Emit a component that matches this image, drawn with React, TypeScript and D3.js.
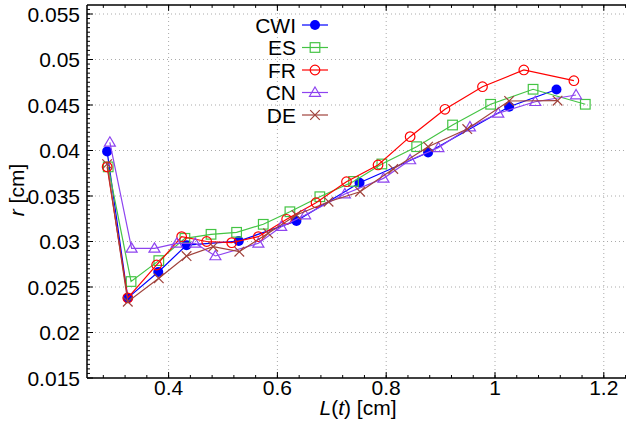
import { useEffect, useRef } from "react";
import * as d3 from "d3";

// series values
const cwiX = [0.287, 0.325, 0.381, 0.433, 0.529, 0.635, 0.751, 0.877, 1.026, 1.113];
const cwiY = [0.0399, 0.0238, 0.02665, 0.0296, 0.03005, 0.03225, 0.03646, 0.03978, 0.04481, 0.0467];

const esX = [0.289, 0.331, 0.382, 0.43, 0.478, 0.525, 0.574, 0.623, 0.678, 0.74, 0.792, 0.856, 0.922, 0.992, 1.07, 1.166];
const esY = [0.0382, 0.0256, 0.0279, 0.03035, 0.03079, 0.03101, 0.03189, 0.03327, 0.03492, 0.0366, 0.03852, 0.04042, 0.0428, 0.04508, 0.04673, 0.04508];

const frX = [0.287, 0.325, 0.378, 0.424, 0.47, 0.516, 0.565, 0.617, 0.671, 0.727, 0.785, 0.844, 0.908, 0.977, 1.053, 1.145];
const frY = [0.0382, 0.0238, 0.02742, 0.03053, 0.03, 0.02987, 0.03053, 0.03244, 0.03426, 0.03657, 0.03841, 0.04152, 0.04453, 0.04701, 0.04885, 0.04767];

const cnX = [0.292, 0.332, 0.374, 0.415, 0.449, 0.486, 0.565, 0.607, 0.651, 0.724, 0.795, 0.844, 0.896, 0.954, 1.006, 1.074, 1.149];
const cnY = [0.0409, 0.02925, 0.02925, 0.0298, 0.0298, 0.02841, 0.0298, 0.03163, 0.03291, 0.03522, 0.03694, 0.03896, 0.0403, 0.04258, 0.04409, 0.04536, 0.0461];

const deX = [0.287, 0.325, 0.382, 0.433, 0.482, 0.53, 0.583, 0.635, 0.694, 0.752, 0.813, 0.877, 0.949, 1.026, 1.115];
const deY = [0.0385, 0.02338, 0.02596, 0.0284, 0.02943, 0.02888, 0.0309, 0.03291, 0.03437, 0.03547, 0.03797, 0.04042, 0.04236, 0.04544, 0.04547];

const seriesNames = ["CWI", "ES", "FR", "CN", "DE"];
const xTicks = [0.4, 0.6, 0.8, 1, 1.2];
const yTicks = [0.015, 0.02, 0.025, 0.03, 0.035, 0.04, 0.045, 0.05, 0.055];

const colors = ["#0000ff", "#44c444", "#ff0000", "#8e44f0", "#a0423c"];
const shapes = ["circle", "square", "ocircle", "triangle", "cross"];
const FONT = "'Liberation Sans', Arial, sans-serif";

export default function App() {
  const ref = useRef(null);
  const W = 626;
  const H = 424;

  useEffect(() => {
    draw();
  });

  function marker(g: any, shape: string, cx: number, cy: number, color: string) {
    const s = 4.8;
    if (shape === "circle") {
      g.append("circle").attr("cx", cx).attr("cy", cy).attr("r", 5).attr("fill", color);
    } else if (shape === "ocircle") {
      g.append("circle").attr("cx", cx).attr("cy", cy).attr("r", s)
        .attr("fill", "none").attr("stroke", color).attr("stroke-width", 1.2);
    } else if (shape === "square") {
      g.append("rect").attr("x", cx - s).attr("y", cy - s).attr("width", 2 * s).attr("height", 2 * s)
        .attr("fill", "none").attr("stroke", color).attr("stroke-width", 1.2);
    } else if (shape === "triangle") {
      g.append("path")
        .attr("d", `M${cx},${cy - 5.5}L${cx + 5.5},${cy + 3.8}L${cx - 5.5},${cy + 3.8}Z`)
        .attr("fill", "none").attr("stroke", color).attr("stroke-width", 1.2);
    } else {
      g.append("path")
        .attr("d", `M${cx - s},${cy - s}L${cx + s},${cy + s}M${cx - s},${cy + s}L${cx + s},${cy - s}`)
        .attr("fill", "none").attr("stroke", color).attr("stroke-width", 1.2);
    }
  }

  function draw() {
    const svg = d3.select(ref.current);
    svg.selectAll("*").remove();

    const x = d3.scaleLinear().domain([0.25, 1.25]).range([87, 631]);
    const y = d3.scaleLinear().domain([0.015, 0.056]).range([378, 4.9]);

    svg.append("rect").attr("width", W).attr("height", H).attr("fill", "#fff");

    // grid
    const grid = svg.append("g").attr("stroke", "#aaa").attr("stroke-width", 1).attr("stroke-dasharray", "1,3");
    xTicks.forEach((t) => {
      grid.append("line").attr("x1", x(t)).attr("x2", x(t)).attr("y1", y(0.015)).attr("y2", y(0.056));
    });
    yTicks.slice(1).forEach((t) => {
      grid.append("line").attr("x1", x(0.25)).attr("x2", x(1.25)).attr("y1", y(t)).attr("y2", y(t));
    });

    // data
    const xs = [cwiX, esX, frX, cnX, deX];
    const ys = [cwiY, esY, frY, cnY, deY];
    const plot = svg.append("g");
    xs.forEach((sx, i) => {
      const pts: [number, number][] = sx.map((v, j) => [x(v), y(ys[i][j])]);
      plot.append("path")
        .attr("d", d3.line()(pts))
        .attr("fill", "none")
        .attr("stroke", colors[i])
        .attr("stroke-width", 1.2);
      pts.forEach((p) => marker(plot, shapes[i], p[0], p[1], colors[i]));
    });

    // frame and ticks
    const axis = svg.append("g").attr("stroke", "#000");
    axis.append("line").attr("x1", x(0.25)).attr("x2", x(1.25)).attr("y1", y(0.015)).attr("y2", y(0.015)).attr("stroke-width", 1.5);
    axis.append("line").attr("x1", x(0.25)).attr("x2", x(1.25)).attr("y1", y(0.056)).attr("y2", y(0.056)).attr("stroke-width", 1.5);
    axis.append("line").attr("x1", x(0.25)).attr("x2", x(0.25)).attr("y1", y(0.015)).attr("y2", y(0.056)).attr("stroke-width", 1.5);

    const xMinor = d3.range(0.28, 1.25, 0.04);
    xMinor.forEach((t) => {
      axis.append("line").attr("x1", x(t)).attr("x2", x(t)).attr("y1", y(0.015)).attr("y2", y(0.015) - 3);
      axis.append("line").attr("x1", x(t)).attr("x2", x(t)).attr("y1", y(0.056)).attr("y2", y(0.056) + 3);
    });
    xTicks.forEach((t) => {
      axis.append("line").attr("x1", x(t)).attr("x2", x(t)).attr("y1", y(0.015)).attr("y2", y(0.015) - 6);
      axis.append("line").attr("x1", x(t)).attr("x2", x(t)).attr("y1", y(0.056)).attr("y2", y(0.056) + 6);
    });
    const yMinor = d3.range(0.0155, 0.056, 0.0005);
    yMinor.forEach((t) => {
      axis.append("line").attr("x1", x(0.25)).attr("x2", x(0.25) + 3).attr("y1", y(t)).attr("y2", y(t));
    });
    yTicks.forEach((t) => {
      axis.append("line").attr("x1", x(0.25)).attr("x2", x(0.25) + 6).attr("y1", y(t)).attr("y2", y(t));
    });

    // tick labels
    const labels = svg.append("g").attr("font-family", FONT).attr("font-size", 21).attr("fill", "#000");
    xTicks.forEach((t) => {
      labels.append("text").attr("x", x(t)).attr("y", 395).attr("text-anchor", "middle").text(String(t));
    });
    yTicks.forEach((t) => {
      labels.append("text").attr("x", 80).attr("y", y(t) + 7.5).attr("text-anchor", "end").text(String(t));
    });

    // axis titles
    const xl = labels.append("text").attr("x", 358).attr("y", 415).attr("text-anchor", "middle");
    xl.append("tspan").attr("font-style", "italic").text("L");
    xl.append("tspan").text("(");
    xl.append("tspan").attr("font-style", "italic").text("t");
    xl.append("tspan").text(") [cm]");

    const yl = labels.append("text").attr("transform", "translate(24,190) rotate(-90)").attr("text-anchor", "middle");
    yl.append("tspan").attr("font-style", "italic").text("r");
    yl.append("tspan").text(" [cm]");

    // legend
    const leg = svg.append("g");
    seriesNames.forEach((name, i) => {
      const ly = 25 + i * 22.5;
      leg.append("text").attr("x", 296).attr("y", ly + 7.5).attr("text-anchor", "end")
        .attr("font-family", FONT).attr("font-size", 21).text(name);
      leg.append("line").attr("x1", 302).attr("x2", 328).attr("y1", ly).attr("y2", ly)
        .attr("stroke", colors[i]).attr("stroke-width", 1.2);
      marker(leg, shapes[i], 315, ly, colors[i]);
    });
  }

  return (
    <svg width={W} height={H} ref={ref} style={{ position: "absolute", left: 0, top: 0 }}></svg>
  );
}
